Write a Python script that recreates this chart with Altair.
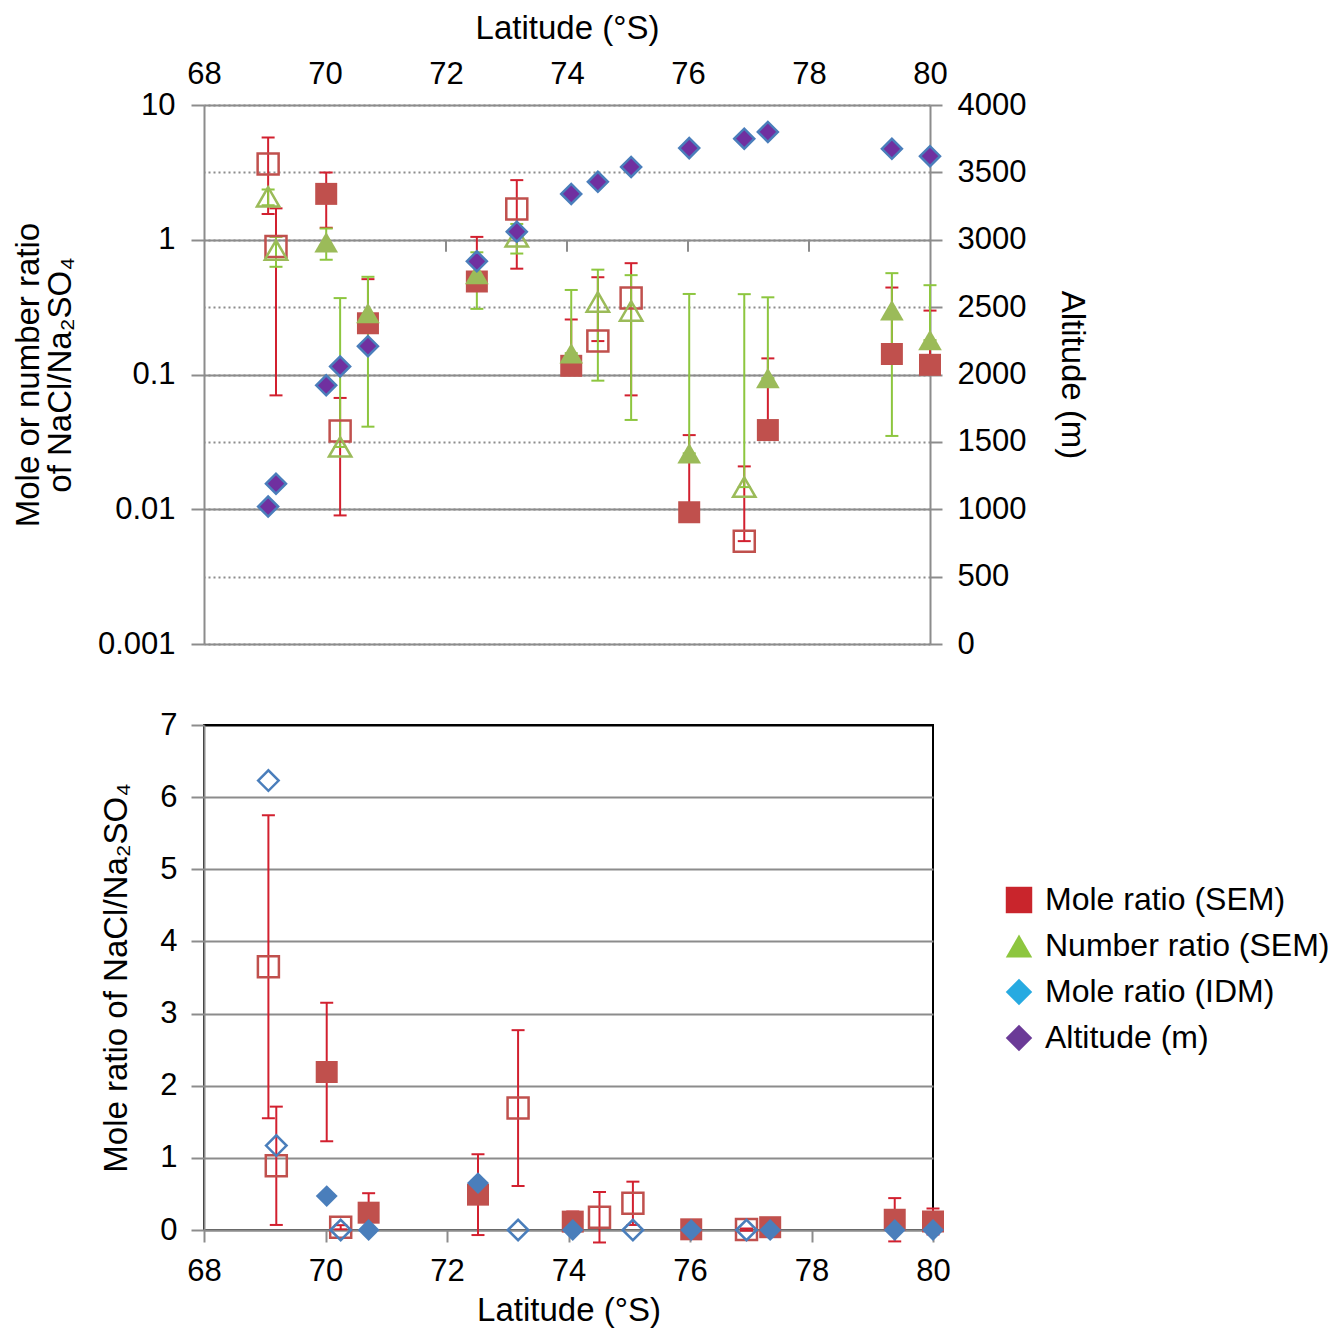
import altair as alt
import pandas as pd

# ---------------- data ----------------
lat = [69.06, 69.19, 70.02, 70.25, 70.71, 72.51, 73.17, 74.07, 74.51, 75.06,
       76.02, 76.93, 77.32, 79.37, 80.0]
altitude = [1020, 1190, 1920, 2060, 2210, 2840, 3060, 3340, 3430, 3540,
            3680, 3750, 3800, 3675, 3620]
mole_sem = [3.65, 0.89, 2.19, 0.038, 0.24, 0.49, 1.69, 0.116, 0.177, 0.37,
            0.0095, 0.0058, 0.0387, 0.142, 0.118]
mole_sem_err = [2.1, 0.82, 0.96, 0.029, 0.27, 0.56, 1.08, 0.14, 0.35, 0.30,
                0.026, 0.015, 0.093, 0.30, 0.18]
number_sem = [2.08, 0.84, 0.96, 0.029, 0.286, 0.557, 1.05, 0.144, 0.345, 0.296,
              0.026, 0.0146, 0.094, 0.30, 0.18]
number_sem_err = [0.28, 0.21, 0.25, 0.34, 0.245, 0.25, 0.26, 0.28, 0.255, 0.25,
                  0.37, 0.38, 0.28, 0.265, 0.28]
mole_idm = [6.23, 1.17, 0.47, 0.0, 0.0, 0.65, 0.0, 0.0, None, 0.0,
            0.0, 0.0, 0.0, 0.0, 0.0]
open_marker = [True, True, False, True, False, False, True, False, True, True,
               False, True, False, False, False]

lat_ticks = [68, 70, 72, 74, 76, 78, 80]
inner_lat_ticks = [70, 72, 74, 76, 78]
ratio_ticks = [0.001, 0.01, 0.1, 1, 10]
altitude_ticks = [0, 500, 1000, 1500, 2000, 2500, 3000, 3500, 4000]
linear_ticks = [0, 1, 2, 3, 4, 5, 6, 7]

legend_names = ["Mole ratio (SEM)", "Number ratio (SEM)", "Mole ratio (IDM)", "Altitude (m)"]
legend_colors = ["#C9252C", "#8DC63F", "#27AAE1", "#6B3A97"]
legend_shapes = ["square", "triangle-up", "diamond", "diamond"]

# ---------------- styles ----------------
FONT = "Liberation Sans"
GRID = "#8C8C8C"
RED_FILL = "#C0504D"
RED_BAR = "#D2202F"
GREEN_FILL = "#9BBB59"
GREEN_BAR = "#8DC63F"
BLUE = "#4A7EBB"
PURPLE = "#7030A0"


def err_frame(values, errs, log):
    rows = []
    for la, v, e, o in zip(lat, values, errs, open_marker):
        if v is None:
            continue
        lo = v - e
        if log and lo <= 0:
            lo = v
        rows.append(dict(lat=la, v=v, lo=lo, hi=v + e, open=o))
    return pd.DataFrame(rows)


def pt_frame(values):
    rows = []
    for la, v, o in zip(lat, values, open_marker):
        if v is None:
            continue
        rows.append(dict(lat=la, v=v, open=o))
    return pd.DataFrame(rows)


red_log = err_frame(mole_sem, mole_sem_err, True)
green_log = err_frame(number_sem, number_sem_err, True)
red_lin = err_frame(mole_sem, mole_sem_err, False)
idm_df = pt_frame(mole_idm)
alt_df = pd.DataFrame({"lat": lat, "alt": altitude})
inner_df = pd.DataFrame({"lat": inner_lat_ticks})

# ---------------- top panel ----------------
x_scale = alt.Scale(domain=[68, 80], nice=False, zero=False)
log_scale = alt.Scale(type="log", domain=[0.001, 10], nice=False)
alt_scale = alt.Scale(domain=[0, 4000], nice=False, zero=False)

X_top = alt.X("lat:Q", scale=x_scale, title="Latitude (°S)",
              axis=alt.Axis(orient="top", values=lat_ticks, format="d", ticks=False,
                            domain=False, grid=False, labelFlush=False,
                            labelPadding=15, titlePadding=13))

left_axis = alt.Axis(orient="left", values=ratio_ticks, format="~g", grid=True,
                     tickSize=13, labelPadding=16, titlePadding=20, titleLineHeight=32)
left_title = ["Mole or number ratio", "of NaCl/Na\u2082SO\u2084"]

right_axis = alt.Axis(orient="right", values=altitude_ticks, format="d", grid=True,
                      gridDash=[2, 3], tickSize=12, labelPadding=15, titlePadding=29)

top_layers = [
    alt.Chart(inner_df).mark_tick(orient="vertical", size=12, thickness=2, color=GRID,
                                  yOffset=6, opacity=1).encode(
        x=X_top,
        y=alt.Y(datum=1, type="quantitative", scale=log_scale, axis=None)),
    alt.Chart(red_log).mark_rule(color=RED_BAR, strokeWidth=2).encode(
        x=X_top, y=alt.Y("lo:Q", scale=log_scale, axis=left_axis, title=left_title), y2="hi:Q"),
    alt.Chart(red_log).transform_fold(["lo", "hi"], as_=["end", "yv"]).mark_tick(
        orient="horizontal", size=13, thickness=2, color=RED_BAR, opacity=1).encode(
        x=X_top, y=alt.Y("yv:Q", scale=log_scale, axis=None)),
    alt.Chart(green_log).mark_rule(color=GREEN_BAR, strokeWidth=2).encode(
        x=X_top, y=alt.Y("lo:Q", scale=log_scale, axis=None), y2="hi:Q"),
    alt.Chart(green_log).transform_fold(["lo", "hi"], as_=["end", "yv"]).mark_tick(
        orient="horizontal", size=13, thickness=2, color=GREEN_BAR, opacity=1).encode(
        x=X_top, y=alt.Y("yv:Q", scale=log_scale, axis=None)),
    alt.Chart(red_log).transform_filter("!datum.open").mark_point(
        shape="square", filled=True, size=484, color=RED_FILL, opacity=1).encode(
        x=X_top, y=alt.Y("v:Q", scale=log_scale, axis=None)),
    alt.Chart(red_log).transform_filter("datum.open").mark_point(
        shape="square", filled=False, size=441, color=RED_FILL, strokeWidth=2.5, opacity=1).encode(
        x=X_top, y=alt.Y("v:Q", scale=log_scale, axis=None)),
    alt.Chart(green_log).transform_filter("!datum.open").mark_point(
        shape="triangle-up", filled=True, size=560, color=GREEN_FILL, opacity=1).encode(
        x=X_top, y=alt.Y("v:Q", scale=log_scale, axis=None)),
    alt.Chart(green_log).transform_filter("datum.open").mark_point(
        shape="triangle-up", filled=False, size=500, color=GREEN_FILL, strokeWidth=2.5, opacity=1).encode(
        x=X_top, y=alt.Y("v:Q", scale=log_scale, axis=None)),
    alt.Chart(alt_df).mark_point(
        shape="diamond", filled=True, size=400, fill=PURPLE, stroke=BLUE, strokeWidth=2.5,
        opacity=1).encode(
        x=X_top, y=alt.Y("alt:Q", scale=alt_scale, axis=right_axis, title="Altitude (m)")),
]

top = alt.layer(*top_layers).resolve_scale(y="independent").properties(width=726, height=539)

# ---------------- bottom panel ----------------
X_bot = alt.X("lat:Q", scale=x_scale, title="Latitude (°S)",
              axis=alt.Axis(orient="bottom", values=lat_ticks, format="d", grid=False,
                            labelFlush=False, tickSize=12, labelPadding=14, titlePadding=8))
lin_scale = alt.Scale(domain=[0, 7], nice=False, zero=False)
lin_axis = alt.Axis(orient="left", values=linear_ticks, format="d", grid=True,
                    tickSize=13, labelPadding=14, titlePadding=26,
                    gridColor=alt.condition("datum.value == 7", alt.value("black"), alt.value(GRID)))
lin_title = "Mole ratio of NaCl/Na\u2082SO\u2084"


def Ylin(field):
    return alt.Y(field, scale=lin_scale, axis=lin_axis, title=lin_title)


legend_def = alt.Legend(title=None, orient="none", legendX=799, legendY=159,
                        symbolSize=700, symbolStrokeWidth=0, labelFont=FONT,
                        labelFontSize=32, labelColor="black", labelOffset=10,
                        rowPadding=14, padding=0, labelLimit=500)

bottom_layers = [
    alt.Chart(red_lin).mark_rule(color=RED_BAR, strokeWidth=2).encode(
        x=X_bot, y=Ylin("lo:Q"), y2="hi:Q"),
    alt.Chart(red_lin).transform_fold(["lo", "hi"], as_=["end", "yv"]).mark_tick(
        orient="horizontal", size=13, thickness=2, color=RED_BAR, opacity=1).encode(
        x=X_bot, y=Ylin("yv:Q")),
    alt.Chart(red_lin).transform_filter("!datum.open").mark_point(
        shape="square", filled=True, size=484, color=RED_FILL, opacity=1).encode(
        x=X_bot, y=Ylin("v:Q")),
    alt.Chart(red_lin).transform_filter("datum.open").mark_point(
        shape="square", filled=False, size=441, color=RED_FILL, strokeWidth=2.5, opacity=1).encode(
        x=X_bot, y=Ylin("v:Q")),
    alt.Chart(idm_df).transform_filter("!datum.open").mark_point(
        shape="diamond", filled=True, size=480, color=BLUE, opacity=1).encode(
        x=X_bot, y=Ylin("v:Q")),
    alt.Chart(idm_df).transform_filter("datum.open").mark_point(
        shape="diamond", filled=False, size=420, color=BLUE, strokeWidth=2.5, opacity=1).encode(
        x=X_bot, y=Ylin("v:Q")),
    alt.Chart(pd.DataFrame({"series": legend_names})).transform_filter("false").mark_point(
        filled=True, opacity=1).encode(
        color=alt.Color("series:N", scale=alt.Scale(domain=legend_names, range=legend_colors),
                        legend=legend_def),
        shape=alt.Shape("series:N", scale=alt.Scale(domain=legend_names, range=legend_shapes),
                        legend=legend_def)),
]

bottom = alt.layer(*bottom_layers).properties(
    width=729, height=505, view=alt.ViewBackground(stroke="black", strokeWidth=2))

chart = alt.vconcat(top, bottom, spacing=81, bounds="flush").resolve_scale(
    x="independent", y="independent", color="independent", shape="independent"
).properties(
    padding={"left": 4, "top": 4, "right": 0, "bottom": 0}
).configure_axis(
    labelFont=FONT, labelFontSize=31, labelColor="black",
    titleFont=FONT, titleFontSize=33, titleFontWeight="normal", titleColor="black",
    domainColor=GRID, domainWidth=2, tickColor=GRID, tickWidth=2,
    gridColor=GRID, gridWidth=2
).configure_view(strokeWidth=0)

chart.save("out.html", embed_options={"renderer": "svg", "actions": False})
